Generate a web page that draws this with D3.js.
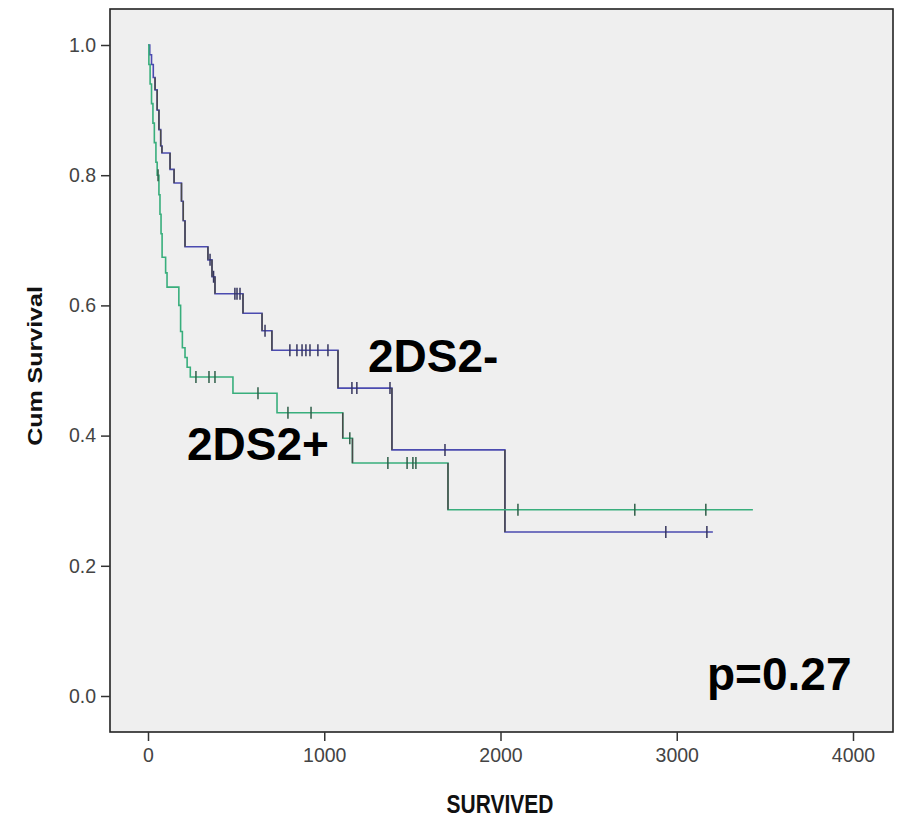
<!DOCTYPE html>
<html>
<head>
<meta charset="utf-8">
<script src="https://cdn.jsdelivr.net/npm/d3@7"></script>
<style>
  body { margin: 0; background: #fff; }
  svg { display: block; font-family: "Liberation Sans", Arial, sans-serif; }
</style>
</head>
<body>
<svg id="chart" width="901" height="817"></svg>
<script>
// 2DS2+ group (green)
const plusTimes = [0, 5, 12, 20, 28, 36, 45, 52, 62, 68, 74, 80, 100, 108, 175, 185, 195, 210, 222, 240, 482, 732, 1105, 1160, 1702];
const plusSurv = [1, 0.97, 0.94, 0.91, 0.88, 0.85, 0.82, 0.80, 0.77, 0.74, 0.71, 0.674, 0.65, 0.628, 0.60, 0.56, 0.535, 0.52, 0.505, 0.49, 0.465, 0.435, 0.396, 0.358, 0.286];
const plusCensored = [57, 272, 346, 380, 624, 794, 925, 1145, 1361, 1470, 1503, 1520, 2099, 2762, 3165];
const plusEnd = 3432;

// 2DS2- group (blue)
const minusTimes = [0, 10, 20, 30, 40, 52, 62, 72, 79, 125, 148, 190, 200, 210, 340, 363, 380, 539, 647, 703, 1078, 1384, 2025];
const minusSurv = [1, 0.985, 0.97, 0.95, 0.931, 0.90, 0.87, 0.845, 0.834, 0.809, 0.788, 0.76, 0.73, 0.69, 0.67, 0.644, 0.618, 0.588, 0.561, 0.531, 0.473, 0.378, 0.252];
const minusCensored = [352, 372, 493, 505, 522, 664, 805, 845, 874, 896, 919, 964, 1021, 1157, 1185, 1373, 1685, 2938, 3171];
const minusEnd = 3205;

const xTicks = [0, 1000, 2000, 3000, 4000];
const yTicks = [0, 0.2, 0.4, 0.6, 0.8, 1.0];

const svg = d3.select('#chart');

const x = d3.scaleLinear().domain([0, 4000]).range([148, 853]);
const y = d3.scaleLinear().domain([0, 1]).range([696, 45]);

// plot frame
svg.append('rect')
    .attr('x', 110).attr('y', 9)
    .attr('width', 783).attr('height', 723)
    .attr('fill', '#efefef')
    .attr('stroke', '#222')
    .attr('stroke-width', 1.6);

// axes
const xAxis = svg.append('g')
    .attr('transform', 'translate(0,732)')
    .call(d3.axisBottom(x).tickValues(xTicks).tickSize(9).tickPadding(7).tickFormat(d3.format('d')));
const yAxis = svg.append('g')
    .attr('transform', 'translate(110,0)')
    .call(d3.axisLeft(y).tickValues(yTicks).tickSize(9).tickPadding(5).tickFormat(d3.format('.1f')));

[xAxis, yAxis].forEach(function (a) {
    a.select('.domain').remove();
    a.selectAll('line').attr('stroke', '#333').attr('stroke-width', 1.5);
    a.selectAll('text')
        .attr('fill', '#444')
        .style('font-family', '"Liberation Sans", Arial, sans-serif')
        .style('font-size', '19.5px');
});

function stepAt(times, surv, t) {
    var s = surv[0];
    for (var i = 0; i < times.length; i++) {
        if (times[i] <= t) s = surv[i];
    }
    return s;
}

function drawCurve(times, surv, censored, endT, colour, tickColour, grayFrom) {
    const pts = times.map(function (t, i) { return [t, surv[i]]; });
    pts.push([endT, surv[surv.length - 1]]);

    const line = d3.line()
        .x(function (d) { return x(d[0]); })
        .y(function (d) { return y(d[1]); })
        .curve(d3.curveStepAfter);

    svg.append('path')
        .datum(pts)
        .attr('fill', 'none')
        .attr('stroke', colour)
        .attr('stroke-width', 1.6)
        .attr('d', line);

    // darker vertical drops
    const drops = [];
    for (let i = 1; i < times.length; i++) {
        if (times[i] >= grayFrom) drops.push({ t: times[i], s0: surv[i - 1], s1: surv[i] });
    }
    svg.selectAll(null).data(drops).enter().append('line')
        .attr('x1', function (d) { return x(d.t); })
        .attr('x2', function (d) { return x(d.t); })
        .attr('y1', function (d) { return y(d.s0); })
        .attr('y2', function (d) { return y(d.s1); })
        .attr('stroke', '#4a4a4a')
        .attr('stroke-width', 1.5);

    svg.selectAll(null).data(censored).enter().append('line')
        .attr('x1', function (d) { return x(d); })
        .attr('x2', function (d) { return x(d); })
        .attr('y1', function (d) { return y(stepAt(times, surv, d)) - 6; })
        .attr('y2', function (d) { return y(stepAt(times, surv, d)) + 6; })
        .attr('stroke', tickColour)
        .attr('stroke-width', 1.5);
}

drawCurve(minusTimes, minusSurv, minusCensored, minusEnd, '#4b4bb0', '#35355e', 40);
drawCurve(plusTimes, plusSurv, plusCensored, plusEnd, '#38ae7c', '#2e5e48', 1100);

// annotations
svg.append('text').attr('x', 368).attr('y', 372)
    .attr('font-size', 46).attr('font-weight', 'bold').attr('fill', '#000')
    .text('2DS2-');
svg.append('text').attr('x', 187).attr('y', 460)
    .attr('font-size', 46).attr('font-weight', 'bold').attr('fill', '#000')
    .text('2DS2+');
svg.append('text').attr('x', 707).attr('y', 690)
    .attr('font-size', 46).attr('font-weight', 'bold').attr('fill', '#000')
    .text('p=0.27');

// axis titles
svg.append('text')
    .attr('transform', 'translate(500,813) scale(1,1.2)')
    .attr('text-anchor', 'middle')
    .attr('font-size', 21).attr('font-weight', 'bold').attr('fill', '#111')
    .text('SURVIVED');
svg.append('text')
    .attr('transform', 'translate(42,366) rotate(-90) scale(1.25,1)')
    .attr('text-anchor', 'middle')
    .attr('font-size', 20).attr('font-weight', 'bold').attr('fill', '#111')
    .text('Cum Survival');
</script>
</body>
</html>
